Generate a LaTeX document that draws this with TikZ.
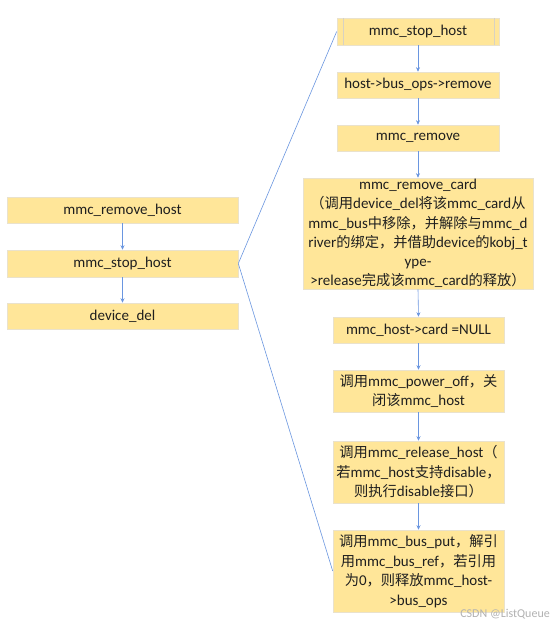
\documentclass[tikz,border=0pt]{standalone}
\usepackage{fontspec}
\setmainfont{Carlito}
\newfontfamily\zhfont{Noto Sans CJK SC}[Scale=0.95]
\newcommand\zh[1]{{\zhfont #1}}
\usetikzlibrary{arrows.meta}
\definecolor{boxfill}{HTML}{FFE699}
\definecolor{boxline}{HTML}{EAE2CC}
\definecolor{procline}{HTML}{D8D2C2}
\definecolor{conn}{HTML}{6A96E0}
\tikzset{
  box/.style={rectangle, fill=boxfill, draw=boxline, line width=0.6pt, inner xsep=1pt, inner ysep=0pt,
    align=center, font=\fontsize{15bp}{19.5bp}\selectfont, text=black!88},
  flow/.style={draw=conn, line width=0.6pt, -{Stealth[length=4.5pt,width=4pt]}},
  link/.style={draw=conn, line width=0.6pt},
}
\begin{document}
\begin{tikzpicture}[x=1bp,y=-1bp]
\useasboundingbox[fill=white] (0,0) rectangle (553,625);
% left column
\node[box, minimum width=231bp, minimum height=26bp] (lrh) at (122.5,210) {mmc\_remove\_host};
\node[box, minimum width=231bp, minimum height=27bp] (lsh) at (122.5,263.5) {mmc\_stop\_host};
\node[box, minimum width=231bp, minimum height=26bp] (ldd) at (122.5,316) {device\_del};
% right column
\node[box, minimum width=162bp, minimum height=27bp] (rsh) at (418,31.5) {mmc\_stop\_host};
\draw[procline, line width=0.6pt] (343,18) -- (343,45) (494,18) -- (494,45);
\node[box, minimum width=162bp, minimum height=26bp] (rbo) at (418,85) {host->bus\_ops->remove};
\node[box, minimum width=162bp, minimum height=26bp] (rrm) at (418,138) {mmc\_remove};
\node[box, minimum width=230bp, minimum height=111bp, font=\fontsize{15bp}{19.2bp}\selectfont] (rrc) at (418,233.5)
  {mmc\_remove\_card\\
   \zh{（调用}device\_del\zh{将该}mmc\_card\zh{从}\\
   mmc\_bus\zh{中移除，并解除与}mmc\_d\\
   river\zh{的绑定，并借助}device\zh{的}kobj\_t\\
   ype-\\
   >release\zh{完成该}mmc\_card\zh{的释放）}};
\node[box, minimum width=171bp, minimum height=26bp] (rnull) at (418.5,330) {mmc\_host->card =NULL};
\node[box, minimum width=171bp, minimum height=42bp] (rpo) at (418.5,391)
  {\zh{调用}mmc\_power\_off\zh{，关}\\ \zh{闭该}mmc\_host};
\node[box, minimum width=171bp, minimum height=62bp] (rrel) at (418.5,472)
  {\zh{调用}mmc\_release\_host\zh{（}\\ \zh{若}mmc\_host\zh{支持}disable\zh{，}\\ \zh{则执行}disable\zh{接口）}};
\node[box, minimum width=171bp, minimum height=82bp] (rput) at (418.5,571)
  {\zh{调用}mmc\_bus\_put\zh{，解引}\\ \zh{用}mmc\_bus\_ref\zh{，若引用}\\ \zh{为}0\zh{，则释放}mmc\_host-\\ >bus\_ops};
% vertical arrows
\draw[flow] (lrh.south) -- (lsh.north);
\draw[flow] (lsh.south) -- (ldd.north);
\draw[flow] (rsh.south) -- (rbo.north);
\draw[flow] (rbo.south) -- (rrm.north);
\draw[flow] (rrm.south) -- (rrc.north);
\draw[flow] (rrc.south) -- (rnull.north);
\draw[flow] (rnull.south) -- (rpo.north);
\draw[flow] (rpo.south) -- (rrel.north);
\draw[flow] (rrel.south) -- (rput.north);
% links
\draw[link] (lsh.east) -- (rsh.west);
\draw[link] (lsh.east) -- (rput.west);
% watermark
\node[anchor=east, text=black!30, font=\fontsize{12bp}{14bp}\selectfont, inner sep=0pt] (wm) at (550,614) {CSDN @ListQueue};
\end{tikzpicture}
\end{document}
